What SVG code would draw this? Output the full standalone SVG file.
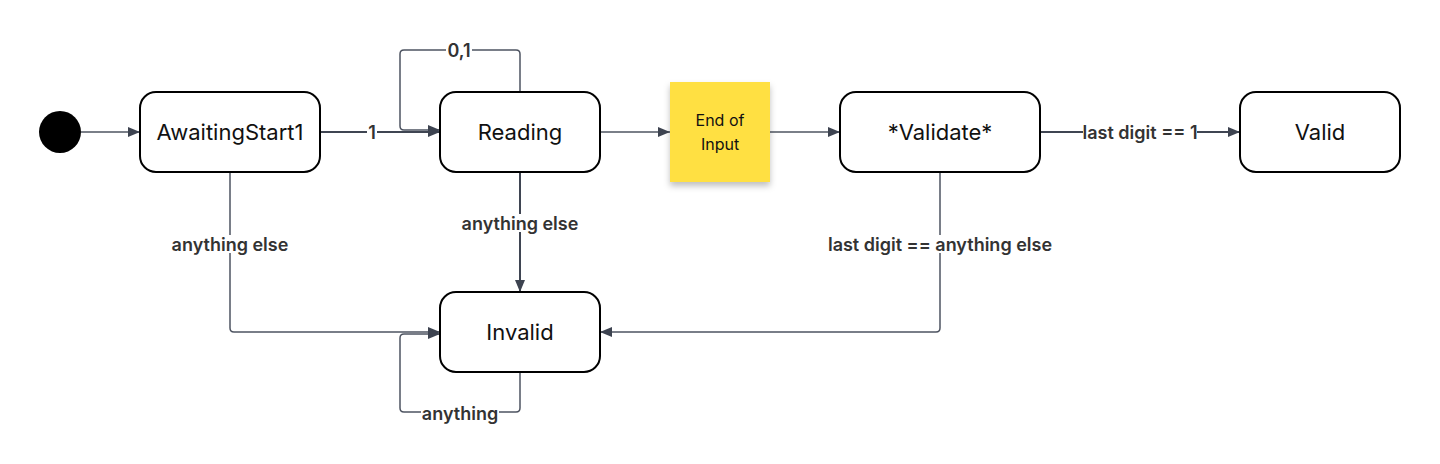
<svg xmlns="http://www.w3.org/2000/svg" width="1440" height="464" viewBox="0 0 1440 464">
<style>
.node rect.st{fill:#fff;stroke:#000;stroke-width:2}
.nt{font-family:Inter,"Liberation Sans",sans-serif;font-size:22px;fill:#111;text-anchor:middle;dominant-baseline:central}
.sn{font-family:Inter,"Liberation Sans",sans-serif;font-size:16px;fill:#111;text-anchor:middle;dominant-baseline:central}
.c{fill:none;stroke:#4e5461;stroke-width:1.5}
.c2{fill:none;stroke:#3f4552;stroke-width:2}
.bg{fill:#fff}
.lb{font-family:Inter,"Liberation Sans",sans-serif;font-size:18px;font-weight:600;fill:#333;text-anchor:middle;dominant-baseline:central}
</style>
<defs>
<marker id="ah" viewBox="0 0 12 10" refX="12" refY="5" markerWidth="12" markerHeight="10" markerUnits="userSpaceOnUse" orient="auto">
<path d="M0,0 L12,5 L0,10 Z" fill="#3d4350"/>
</marker>
<filter id="sh" x="-20%" y="-20%" width="140%" height="150%">
<feDropShadow dx="0" dy="4" stdDeviation="3" flood-color="#000" flood-opacity="0.25"/>
</filter>
</defs>
<rect width="1440" height="464" fill="#fff"/>
<g id="connectors">
<path class="c" d="M81,132 H140" marker-end="url(#ah)"/>
<path class="c2" d="M320,132 H440" marker-end="url(#ah)"/>
<path class="c" d="M520,92 V54 Q520,50 516,50 H404 Q400,50 400,54 V126 Q400,130 404,130 H440" marker-end="url(#ah)"/>
<path class="c" d="M600,132 H670" marker-end="url(#ah)"/>
<path class="c" d="M770,132 H840" marker-end="url(#ah)"/>
<path class="c2" d="M1040,132 H1240" marker-end="url(#ah)"/>
<path class="c" d="M230,172 V328 Q230,332 234,332 H440" marker-end="url(#ah)"/>
<path class="c2" d="M520,172 V292" marker-end="url(#ah)"/>
<path class="c" d="M940,172 V328 Q940,332 936,332 H600" marker-end="url(#ah)"/>
<path class="c" d="M520,372 V408 Q520,412 516,412 H404 Q400,412 400,408 V338 Q400,334 404,334 H440" marker-end="url(#ah)"/>
<rect class="bg" x="367" y="123" width="10" height="18"/>
<text class="lb" x="372" y="132">1</text>
<rect class="bg" x="446" y="41" width="26" height="18"/>
<text class="lb" x="459" y="50">0,1</text>
<rect class="bg" x="1083" y="123" width="114" height="18"/>
<text class="lb" x="1140" y="132">last digit == 1</text>
<rect class="bg" x="171" y="235" width="118" height="18"/>
<text class="lb" x="230" y="244">anything else</text>
<rect class="bg" x="461" y="214" width="118" height="18"/>
<text class="lb" x="520" y="223">anything else</text>
<rect class="bg" x="827" y="235" width="226" height="18"/>
<text class="lb" x="940" y="244">last digit == anything else</text>
<rect class="bg" x="421" y="404" width="78" height="18"/>
<text class="lb" x="460" y="413">anything</text>
</g>
<g id="start" class="node"><circle cx="60" cy="132" r="21" fill="#000"/></g>
<g id="awaiting" class="node"><rect class="st" x="140" y="92" width="180" height="80" rx="16"/><text class="nt" x="230" y="132">AwaitingStart1</text></g>
<g id="reading" class="node"><rect class="st" x="440" y="92" width="160" height="80" rx="16"/><text class="nt" x="520" y="132">Reading</text></g>
<g id="endofinput" class="node"><rect x="670" y="82" width="100" height="100" fill="#ffe043" filter="url(#sh)"/><text class="sn" x="720" y="120">End of</text><text class="sn" x="720" y="144">Input</text></g>
<g id="validate" class="node"><rect class="st" x="840" y="92" width="200" height="80" rx="16"/><text class="nt" x="940" y="132">*Validate*</text></g>
<g id="valid" class="node"><rect class="st" x="1240" y="92" width="160" height="80" rx="16"/><text class="nt" x="1320" y="132">Valid</text></g>
<g id="invalid" class="node"><rect class="st" x="440" y="292" width="160" height="80" rx="16"/><text class="nt" x="520" y="332">Invalid</text></g>
</svg>
